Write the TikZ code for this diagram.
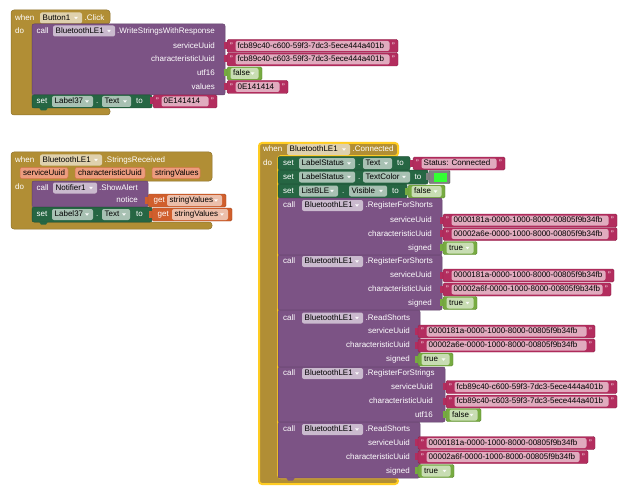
\documentclass[tikz,border=0pt]{standalone}
\usepackage{fontspec}
\setmainfont{Liberation Sans}
\definecolor{evgold}{HTML}{B18E35}
\definecolor{callpur}{HTML}{7C5385}
\definecolor{setgrn}{HTML}{266643}
\definecolor{txtred}{HTML}{B32D5E}
\definecolor{logicgrn}{HTML}{77AB41}
\definecolor{getorg}{HTML}{D05F2D}
\definecolor{colgrey}{HTML}{808080}
\definecolor{swatch}{HTML}{33FF33}
\definecolor{selyel}{HTML}{FFCC22}
\definecolor{paramfill}{HTML}{EC9C7E}
\tikzset{
  lbl/.style={text=white,font=\fontsize{8}{9}\selectfont,inner sep=0pt,text height=5.8pt,text depth=1.6pt},
  ftx/.style={text=black,font=\fontsize{8}{9}\selectfont,inner sep=0pt,text height=5.8pt,text depth=1.6pt},
  fieldbg/.style={fill=white,fill opacity=.6,rounded corners=2},
  evstyle/.style={fill=evgold,draw=evgold!80!black,line width=.5,rounded corners=3},
  callstyle/.style={fill=callpur,draw=callpur!80!black,line width=.5,rounded corners=2},
  setstyle/.style={fill=setgrn,draw=setgrn!80!black,line width=.5,rounded corners=2},
}
% dropdown field: name, x1, x2, yc, text
\newcommand\ddf[5]{%
  \path[fieldbg] (#2,#4-5.5) rectangle (#3,#4+5.5);
  \node[ftx,anchor=west] (#1) at (#2+2.5,#4) {#5};
  \fill[white,opacity=.9] (#3-8,#4-1.2) -- (#3-4,#4-1.2) -- (#3-6,#4+1.3) -- cycle;}
\newcommand\lbw[4]{\node[lbl,anchor=west] (#1) at (#2,#3) {#4};}
\newcommand\lbe[4]{\node[lbl,anchor=east] (#1) at (#2,#3) {#4};}
% text block: name, x1, x2, yc, text
\newcommand\strb[5]{%
  \fill[txtred] (#2-3,#4-4) rectangle (#2+1,#4+3);
  \path[fill=txtred,draw=txtred!80!black,line width=.4,rounded corners=1.5] (#2,#4-6.5) rectangle (#3,#4+6.5);
  \path[fieldbg] (#2+8.5,#4-5) rectangle (#3-8.5,#4+5);
  \node[ftx,anchor=west] (#1) at (#2+10.5,#4) {#5};
  \node[lbl] (#1a) at (#2+4.5,#4) {"};
  \node[lbl] (#1b) at (#3-4.5,#4) {"};}
% logic block: name, x1, x2, yc, text
\newcommand\logb[5]{%
  \fill[logicgrn] (#2-3,#4-4) rectangle (#2+1,#4+3);
  \path[fill=logicgrn,draw=logicgrn!80!black,line width=.4,rounded corners=1.5] (#2,#4-6.5) rectangle (#3,#4+6.5);
  \ddf{#1}{#2+3.5}{#3-3.5}{#4}{#5}}
% get block: name, x1, x2, yc, fx1, fx2, text
\newcommand\getb[7]{%
  \fill[getorg] (#2-3,#4-4) rectangle (#2+1,#4+3);
  \path[fill=getorg,draw=getorg!80!black,line width=.4,rounded corners=1.5] (#2,#4-6.5) rectangle (#3,#4+6.5);
  \node[lbl,anchor=west] (#1g) at (#2+5.5,#4) {get};
  \ddf{#1}{#5}{#6}{#4}{#7}}
% parameter field: name, x1, x2, yc, text
\newcommand\parf[5]{%
  \path[fill=paramfill,draw=getorg!85!white,line width=.5,rounded corners=2] (#2,#4-5.5) rectangle (#3,#4+5.5);
  \node[ftx,anchor=west] (#1) at (#2+3,#4) {#5};}
% bottom bump of a statement block: colour, x, y
\newcommand\bump[3]{\fill[#1] (#2,#3-.5) -- (#2+2,#3+2.5) -- (#2+7,#3+2.5) -- (#2+9,#3-.5) -- cycle;}

\begin{document}
\begin{tikzpicture}[x=1pt,y=-1pt]
\fill[white] (0,0) rectangle (629,500);
\useasboundingbox (0,0) rectangle (629,500);

% ================= Block 1: Button1.Click =================
\path[evstyle] (11,10) -- (110,10) -- (110,24) -- (32,24) -- (32,108) -- (110,108) -- (110,115) -- (11,115) -- cycle;
\lbw{b1when}{15}{18}{when}
\ddf{b1btn}{40}{82}{18}{Button1}
\lbw{b1click}{84.5}{18}{.Click}
\lbw{b1do}{15}{31}{do}
\path[callstyle] (32,24) rectangle (225,95);
\lbw{b1call}{36.5}{31}{call}
\ddf{b1ble}{53}{115}{31}{BluetoothLE1}
\lbw{b1wr}{117}{31}{.WriteStringsWithResponse}
\lbe{b1su}{215}{46}{serviceUuid}
\lbe{b1cu}{215}{59.5}{characteristicUuid}
\lbe{b1u16}{215}{73.5}{utf16}
\lbe{b1val}{215}{87}{values}
\path[setstyle] (32,95) rectangle (152,108);
\bump{setgrn}{39}{108}
\lbw{b1set}{36.5}{101.5}{set}
\ddf{b1lab}{52}{93}{101.5}{Label37}
\lbw{b1dot}{96}{101.5}{.}
\ddf{b1txt}{102}{131}{101.5}{Text}
\lbw{b1to}{136}{101.5}{to}
\strb{b1s1}{227}{398}{46}{fcb89c40-c600-59f3-7dc3-5ece444a401b}
\strb{b1s2}{227}{398}{59.5}{fcb89c40-c603-59f3-7dc3-5ece444a401b}
\logb{b1f}{227}{262}{73.5}{false}
\strb{b1s3}{227}{288}{87}{0E141414}
\strb{b1s4}{153}{217}{101.5}{0E141414}

% ================= Block 2: StringsReceived =================
\path[evstyle] (11,152) -- (212,152) -- (212,181) -- (32,181) -- (32,222) -- (212,222) -- (212,229) -- (11,229) -- cycle;
\lbw{b2when}{15}{160}{when}
\ddf{b2ble}{40}{102}{160}{BluetoothLE1}
\lbw{b2ev}{104.5}{160}{.StringsReceived}
\parf{b2p1}{20}{68}{173}{serviceUuid}
\parf{b2p2}{75}{145}{173}{characteristicUuid}
\parf{b2p3}{152}{200}{173}{stringValues}
\lbw{b2do}{15}{187}{do}
\path[callstyle] (32,181) rectangle (148,207);
\lbw{b2call}{36.5}{188}{call}
\ddf{b2not}{53}{97}{188}{Notifier1}
\lbw{b2sa}{99}{188}{.ShowAlert}
\lbe{b2notice}{138}{200.5}{notice}
\path[setstyle] (32,207) rectangle (152,222);
\bump{setgrn}{39}{222}
\lbw{b2set}{36.5}{214.5}{set}
\ddf{b2lab}{52}{93}{214.5}{Label37}
\lbw{b2dot}{96}{214.5}{.}
\ddf{b2txt}{102}{130}{214.5}{Text}
\lbw{b2to}{136}{214.5}{to}
\getb{b2g1}{148}{226}{200.5}{167}{222}{stringValues}
\getb{b2g2}{152}{232}{214.5}{172}{228}{stringValues}

% ================= Block 3: Connected =================
\path[evstyle,draw=selyel,line width=2] (259,143) -- (398,143) -- (398,156) -- (278,156) -- (278,478) -- (398,478) -- (398,484) -- (259,484) -- cycle;
\lbw{c0when}{263}{149.5}{when}
\ddf{c0ble}{287}{350}{149.5}{BluetoothLE1}
\lbw{c0ev}{352.5}{149.5}{.Connected}
\lbw{c0do}{263}{163.5}{do}

% set LabelStatus.Text
\path[setstyle] (278,156.5) rectangle (410,170);
\lbw{c1set}{283}{163.5}{set}
\ddf{c1lab}{299}{355}{163.5}{LabelStatus}
\lbw{c1dot}{358}{163.5}{.}
\ddf{c1prop}{363}{392}{163.5}{Text}
\lbw{c1to}{397}{163.5}{to}
\strb{c1s}{413}{505}{163.5}{Status: Connected}

% set LabelStatus.TextColor
\path[setstyle] (278,170) rectangle (428,184);
\lbw{c2set}{283}{177}{set}
\ddf{c2lab}{299}{355}{177}{LabelStatus}
\lbw{c2dot}{358}{177}{.}
\ddf{c2prop}{363}{410}{177}{TextColor}
\lbw{c2to}{414.5}{177}{to}
\fill[colgrey] (426,173) rectangle (430,180);
\path[fill=colgrey,draw=colgrey!70!black,line width=.4,rounded corners=1] (429,170.5) rectangle (450,183.5);
\fill[swatch] (433.5,173) rectangle (447,181.5);

% set ListBLE.Visible
\path[setstyle] (278,184) rectangle (407,198);
\lbw{c3set}{283}{191}{set}
\ddf{c3lab}{299}{338}{191}{ListBLE}
\lbw{c3dot}{342}{191}{.}
\ddf{c3prop}{349}{387}{191}{Visible}
\lbw{c3to}{392}{191}{to}
\logb{c3f}{408}{445}{191.5}{false}

% call RegisterForShorts (1)
\path[callstyle] (278,198) rectangle (442,255);
\lbw{c4call}{283}{205.5}{call}
\ddf{c4ble}{302}{363}{205.5}{BluetoothLE1}
\lbw{c4m}{365.5}{205.5}{.RegisterForShorts}
\lbe{c4su}{432}{220.5}{serviceUuid}
\lbe{c4cu}{432}{234}{characteristicUuid}
\lbe{c4sg}{432}{248}{signed}
\strb{c4s1}{443}{617}{220.5}{0000181a-0000-1000-8000-00805f9b34fb}
\strb{c4s2}{443}{617}{234}{00002a6e-0000-1000-8000-00805f9b34fb}
\logb{c4t}{443}{477}{248}{true}

% call RegisterForShorts (2)
\path[callstyle] (278,255) rectangle (442,310);
\lbw{c5call}{283}{261.5}{call}
\ddf{c5ble}{302}{363}{261.5}{BluetoothLE1}
\lbw{c5m}{365.5}{261.5}{.RegisterForShorts}
\lbe{c5su}{432}{275.5}{serviceUuid}
\lbe{c5cu}{432}{289.5}{characteristicUuid}
\lbe{c5sg}{432}{303}{signed}
\strb{c5s1}{443}{614}{275.5}{0000181a-0000-1000-8000-00805f9b34fb}
\strb{c5s2}{443}{611}{289.5}{00002a6f-0000-1000-8000-00805f9b34fb}
\logb{c5t}{443}{477}{303}{true}

% call ReadShorts (1)
\path[callstyle] (278,310) rectangle (420,367);
\lbw{c6call}{283}{318}{call}
\ddf{c6ble}{302}{363}{318}{BluetoothLE1}
\lbw{c6m}{365.5}{318}{.ReadShorts}
\lbe{c6su}{410}{331.5}{serviceUuid}
\lbe{c6cu}{410}{345.5}{characteristicUuid}
\lbe{c6sg}{410}{359.5}{signed}
\strb{c6s1}{418}{595}{331.5}{0000181a-0000-1000-8000-00805f9b34fb}
\strb{c6s2}{418}{595}{345.5}{00002a6e-0000-1000-8000-00805f9b34fb}
\logb{c6t}{418}{453}{359.5}{true}

% call RegisterForStrings
\path[callstyle] (278,367) rectangle (445,422);
\lbw{c7call}{283}{373.5}{call}
\ddf{c7ble}{302}{363}{373.5}{BluetoothLE1}
\lbw{c7m}{365.5}{373.5}{.RegisterForStrings}
\lbe{c7su}{433}{387}{serviceUuid}
\lbe{c7cu}{433}{401.5}{characteristicUuid}
\lbe{c7u}{433}{415}{utf16}
\strb{c7s1}{446}{617}{387}{fcb89c40-c600-59f3-7dc3-5ece444a401b}
\strb{c7s2}{446}{617}{401.5}{fcb89c40-c603-59f3-7dc3-5ece444a401b}
\logb{c7f}{446}{481}{415}{false}

% call ReadShorts (2)
\path[callstyle] (278,422) rectangle (420,478);
\bump{callpur}{286}{478}
\lbw{c8call}{283}{429.5}{call}
\ddf{c8ble}{302}{363}{429.5}{BluetoothLE1}
\lbw{c8m}{365.5}{429.5}{.ReadShorts}
\lbe{c8su}{410}{443}{serviceUuid}
\lbe{c8cu}{410}{457}{characteristicUuid}
\lbe{c8sg}{410}{471}{signed}
\strb{c8s1}{418}{595}{443}{0000181a-0000-1000-8000-00805f9b34fb}
\strb{c8s2}{418}{588}{457}{00002a6f-0000-1000-8000-00805f9b34fb}
\logb{c8t}{418}{454}{471}{true}
\end{tikzpicture}
\end{document}
